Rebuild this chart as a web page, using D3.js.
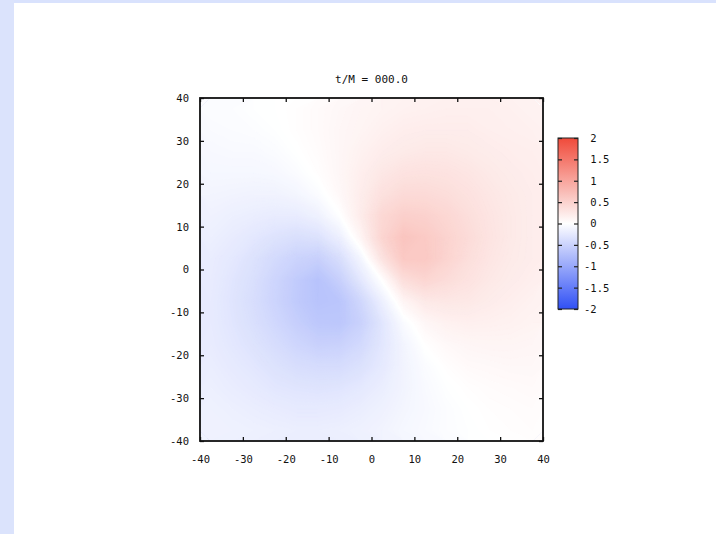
<!DOCTYPE html>
<html><head><meta charset="utf-8">
<script src="https://cdn.jsdelivr.net/npm/d3@7/dist/d3.min.js"></script>
<style>
html,body{margin:0;padding:0;background:#fff;}
svg text{font-family:"DejaVu Sans Mono","Liberation Mono",monospace;fill:#111;}
</style>
</head><body>
<script>
// ---- data ----
const title = "t/M = 000.0";
const xTicks = [-40,-30,-20,-10,0,10,20,30,40];
const yTicks = [-40,-30,-20,-10,0,10,20,30,40];
const cbTicks = [-2,-1.5,-1,-0.5,0,0.5,1,1.5,2];
// cell centres (5-unit cells), rows from top (y=37.5) to bottom (y=-37.5)
const xCells = [-37.5,-32.5,-27.5,-22.5,-17.5,-12.5,-7.5,-2.5,2.5,7.5,12.5,17.5,22.5,27.5,32.5,37.5];
const yCells = [37.5,32.5,27.5,22.5,17.5,12.5,7.5,2.5,-2.5,-7.5,-12.5,-17.5,-22.5,-27.5,-32.5,-37.5];
const field = [
 [-0.03,-0.03,-0.01,0.00,0.02,0.05,0.08,0.11,0.13,0.15,0.16,0.17,0.17,0.17,0.16,0.14],
 [-0.05,-0.04,-0.03,-0.01,0.02,0.05,0.09,0.12,0.16,0.19,0.20,0.20,0.20,0.18,0.17,0.16],
 [-0.07,-0.06,-0.06,-0.04,0.00,0.04,0.09,0.15,0.20,0.23,0.25,0.25,0.23,0.21,0.19,0.18],
 [-0.09,-0.09,-0.09,-0.08,-0.04,0.02,0.09,0.18,0.26,0.31,0.32,0.31,0.28,0.24,0.21,0.19],
 [-0.12,-0.13,-0.14,-0.14,-0.11,-0.04,0.07,0.20,0.33,0.40,0.40,0.37,0.32,0.27,0.23,0.20],
 [-0.15,-0.18,-0.20,-0.22,-0.22,-0.16,-0.01,0.21,0.43,0.52,0.50,0.44,0.36,0.29,0.24,0.20],
 [-0.18,-0.22,-0.27,-0.32,-0.36,-0.33,-0.18,0.11,0.46,0.64,0.58,0.48,0.39,0.30,0.24,0.20],
 [-0.21,-0.26,-0.33,-0.42,-0.50,-0.54,-0.38,-0.11,0.30,0.59,0.59,0.47,0.36,0.28,0.23,0.20],
 [-0.22,-0.29,-0.36,-0.48,-0.59,-0.69,-0.54,-0.27,0.01,0.36,0.45,0.38,0.31,0.25,0.21,0.18],
 [-0.23,-0.30,-0.38,-0.49,-0.60,-0.68,-0.66,-0.46,-0.18,0.11,0.24,0.26,0.25,0.21,0.18,0.15],
 [-0.23,-0.29,-0.36,-0.45,-0.55,-0.63,-0.64,-0.52,-0.29,-0.05,0.09,0.15,0.17,0.16,0.15,0.13],
 [-0.22,-0.27,-0.32,-0.39,-0.47,-0.53,-0.52,-0.43,-0.28,-0.12,0.01,0.07,0.10,0.11,0.11,0.10],
 [-0.20,-0.24,-0.28,-0.33,-0.38,-0.40,-0.40,-0.34,-0.25,-0.13,-0.04,0.02,0.06,0.07,0.08,0.08],
 [-0.18,-0.21,-0.24,-0.28,-0.30,-0.31,-0.30,-0.26,-0.20,-0.13,-0.06,-0.01,0.02,0.04,0.05,0.06],
 [-0.16,-0.18,-0.20,-0.22,-0.24,-0.24,-0.23,-0.20,-0.16,-0.11,-0.07,-0.03,0.00,0.02,0.03,0.04],
 [-0.15,-0.16,-0.17,-0.18,-0.19,-0.19,-0.18,-0.16,-0.13,-0.09,-0.06,-0.03,-0.01,0.01,0.02,0.03]
];

// ---- layout ----
const W = 716, H = 534;
const svg = d3.select("body").append("svg").attr("width", W).attr("height", H);

// page frame strips
svg.append("rect").attr("x",0).attr("y",0).attr("width",W).attr("height",3).attr("fill","#d9e2fd");
svg.append("rect").attr("x",0).attr("y",0).attr("width",14).attr("height",H).attr("fill","#dbe3fc");

const x = d3.scaleLinear().domain([-40,40]).range([200,543]);
const y = d3.scaleLinear().domain([-40,40]).range([441,98]);
const color = d3.scaleLinear().domain([-2,0,2]).range(["#3050f5","#ffffff","#f04a3a"]).clamp(true);

// ---- heat map: base cells, then smooth contour bands on top ----
const nx = xCells.length, ny = yCells.length;
const cellW = 80/nx, cellH = 80/ny;
const heat = svg.append("g");
const cells = [];
field.forEach((row, j) => row.forEach((v, i) => cells.push({cx: xCells[i], cy: yCells[j], v})));
heat.selectAll("rect.cell").data(cells).join("rect").attr("class","cell")
  .attr("x", d => x(d.cx - cellW/2)).attr("y", d => y(d.cy + cellH/2))
  .attr("width", x(cellW) - x(0) + 0.5).attr("height", y(0) - y(cellH) + 0.5)
  .attr("fill", d => color(d.v));

const flat = field.flat();
const step = 0.01;
const thr = d3.range(-0.72, 0.72, step);
const proj = d3.geoTransform({
  point: function(gx, gy){ this.stream.point(x(-40 + gx*cellW), y(40 - gy*cellH)); }
});
const path = d3.geoPath(proj);
const contours = d3.contours().size([nx, ny]).thresholds(thr)(flat);
heat.selectAll("path").data(contours.filter(c => c.coordinates.length)).join("path")
  .attr("d", path)
  .attr("fill", d => color(d.value + step/2))
  .attr("stroke", d => color(d.value + step/2))
  .attr("stroke-width", 0.3);

// ---- axes ----
const fmt = d => String(d);
const gx = svg.append("g").attr("transform",`translate(0,${y(-40)})`)
  .call(d3.axisBottom(x).tickValues(xTicks).tickSize(-4).tickPadding(15).tickFormat(fmt));
const gy = svg.append("g").attr("transform",`translate(${x(-40)},0)`)
  .call(d3.axisLeft(y).tickValues(yTicks).tickSize(-4).tickPadding(11).tickFormat(fmt));
const gt = svg.append("g").attr("transform",`translate(0,${y(40)})`)
  .call(d3.axisTop(x).tickValues(xTicks).tickSize(-4).tickFormat(""));
const gr = svg.append("g").attr("transform",`translate(${x(40)},0)`)
  .call(d3.axisRight(y).tickValues(yTicks).tickSize(-4).tickFormat(""));
[gx,gy,gt,gr].forEach(g => {
  g.select(".domain").remove();
  g.selectAll(".tick line").attr("stroke","#111").attr("stroke-width",1.3);
  g.selectAll(".tick text").attr("font-size",10.5).attr("fill","#000")
    .attr("font-family",'"DejaVu Sans Mono","Liberation Mono",monospace');
});
svg.append("rect").attr("x",x(-40)).attr("y",y(40)).attr("width",x(40)-x(-40)).attr("height",y(-40)-y(40))
  .attr("fill","none").attr("stroke","#111").attr("stroke-width",1.8);

// title
svg.append("text").attr("x",(x(-40)+x(40))/2).attr("y",83).attr("text-anchor","middle")
  .attr("font-size",11).attr("fill","#000").text(title);

// ---- colour bar ----
const cbX0 = 558, cbX1 = 578;
const cy = d3.scaleLinear().domain([-2,2]).range([309,138]);
const defs = svg.append("defs");
const grad = defs.append("linearGradient").attr("id","cbg").attr("x1",0).attr("x2",0).attr("y1",1).attr("y2",0);
const gstops = d3.range(-2, 2.001, 0.25);
grad.selectAll("stop").data(gstops).join("stop")
  .attr("offset", d => (d+2)/4).attr("stop-color", d => color(d));
svg.append("rect").attr("x",cbX0).attr("y",cy(2)).attr("width",cbX1-cbX0).attr("height",cy(-2)-cy(2))
  .attr("fill","url(#cbg)").attr("stroke","#222").attr("stroke-width",1);
const cbAxis = svg.append("g").attr("transform",`translate(${cbX1},0)`)
  .call(d3.axisRight(cy).tickValues(cbTicks).tickSize(-4).tickPadding(6)
    .tickFormat(d => (d < 0 ? "" : " ") + String(d)));
cbAxis.select(".domain").remove();
cbAxis.selectAll(".tick line").attr("stroke","#222").attr("stroke-width",1.2);
cbAxis.selectAll(".tick text").attr("font-size",10.5).attr("fill","#000").style("white-space","pre")
  .attr("font-family",'"DejaVu Sans Mono","Liberation Mono",monospace');
const cbAxisL = svg.append("g").attr("transform",`translate(${cbX0},0)`)
  .call(d3.axisLeft(cy).tickValues(cbTicks).tickSize(-4).tickFormat(""));
cbAxisL.select(".domain").remove();
cbAxisL.selectAll(".tick line").attr("stroke","#222").attr("stroke-width",1.2);
</script>
</body></html>
